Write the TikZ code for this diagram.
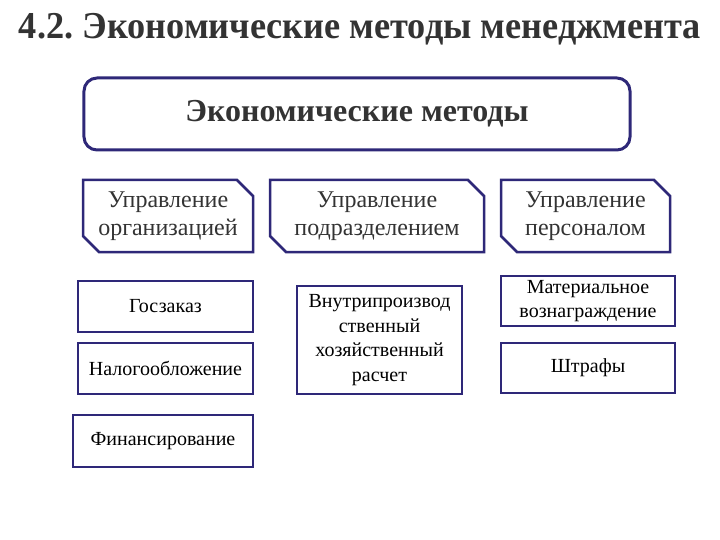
\documentclass[tikz,border=0pt]{standalone}
\usepackage{fontspec}
\setmainfont{Liberation Serif}
\usepackage{tikz}
\usetikzlibrary{shapes.misc}

\definecolor{framecol}{RGB}{46,40,120}
\definecolor{textgray}{RGB}{51,51,51}

\begin{document}
\begin{tikzpicture}[x=1bp, y=-1bp,
  headbox/.style={draw=framecol, line width=3bp, rounded corners=13bp, fill=white,
    text=textgray, font=\bfseries\fontsize{32bp}{36bp}\selectfont},
  groupbox/.style={chamfered rectangle, chamfered rectangle corners={north east,south west},
    chamfered rectangle xsep=8bp, chamfered rectangle ysep=8bp,
    draw=framecol, line width=2.5bp, fill=white, inner sep=0pt,
    minimum height=72bp, align=center, text=textgray,
    font=\fontsize{24bp}{28bp}\selectfont},
  itembox/.style={draw=framecol, line width=2.5bp, fill=white, inner sep=0pt,
    align=center, font=\fontsize{20bp}{24.5bp}\selectfont}]

\useasboundingbox (0,0) rectangle (720,540);

% Title
\node[font=\bfseries\fontsize{38bp}{42bp}\selectfont, text=textgray] (title) at (360,29)
  {\scalebox{0.955}[1]{4.2.\ Экономические методы менеджмента}};

% Main box
\node[headbox, minimum width=546bp, minimum height=72bp] (econ) at (357,114) {Экономические методы};

% Groups
\node[groupbox, minimum width=170bp] (org) at (168,216) {Управление\\организацией};
\node[groupbox, minimum width=214bp] (podr) at (377,216) {Управление\\подразделением};
\node[groupbox, minimum width=169bp] (pers) at (585.5,216) {Управление\\персоналом};

% Left column
\node[itembox, minimum width=175bp, minimum height=51bp] (goszakaz) at (165.5,306.5) {Госзаказ};
\node[itembox, minimum width=175bp, minimum height=51bp] (nalog) at (165.5,368.5) {Налогообложение};
\node[itembox, minimum width=180bp, minimum height=52bp] (finans) at (163,441) {Финансирование};

% Middle column
\node[itembox, minimum width=165bp, minimum height=108bp] (raschet) at (379.5,340)
  {Внутрипроизвод\\ственный\\хозяйственный\\расчет};

% Right column
\node[itembox, minimum width=174bp, minimum height=50bp] (mater) at (588,301) {Материальное\\вознаграждение};
\node[itembox, minimum width=174bp, minimum height=50bp] (shtraf) at (588,368) {Штрафы};

\end{tikzpicture}
\end{document}
